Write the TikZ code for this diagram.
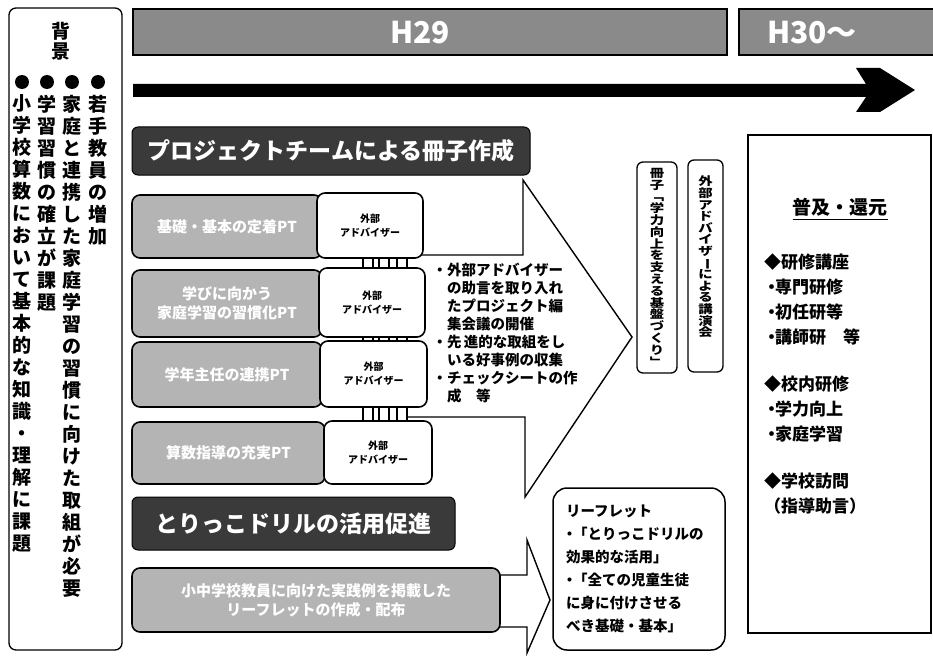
\documentclass[tikz,border=0pt]{standalone}
\usepackage{fontspec}
\setmainfont{Noto Sans CJK JP}
\usepackage{graphicx}
\definecolor{bannergray}{HTML}{8A8A8A}
\definecolor{hdrgray}{HTML}{3A3A3A}
\definecolor{boxgray}{HTML}{B4B4B4}
\ExplSyntaxOn
\NewDocumentCommand \vtext { O{22pt} m }
  {
    \vbox:n
      {
        \skip_set:Nn \baselineskip {#1}
        \skip_set:Nn \lineskip {0pt}
        \dim_set:Nn \lineskiplimit {-100pt}
        \tl_map_inline:nn {#2} { \hbox_to_wd:nn {1.1em} { \hss ##1 \hss } }
      }
  }
\NewDocumentCommand \vtextw { O{12pt} m }
  {
    \vbox:n
      {
        \skip_set:Nn \baselineskip {#1}
        \skip_set:Nn \lineskip {0pt}
        \dim_set:Nn \lineskiplimit {-100pt}
        \tl_map_inline:nn {#2}
          { \hbox_to_wd:nn {1.4em} { \hss \scalebox{1.25}[1]{##1} \hss } }
      }
  }
\ExplSyntaxOff
\newcommand\vch{\rotatebox[origin=c]{-90}{ー}}
\newcommand\hb{\makebox[7pt]{・}}
\begin{document}
\begin{tikzpicture}[x=1pt,y=-1pt,
  every node/.style={inner sep=0pt, outer sep=0pt},
  banner/.style={draw=black, line width=1.2pt, fill=bannergray, text=white,
    font=\fontsize{30}{30}\selectfont\bfseries},
  hdr/.style={draw=black, line width=1pt, fill=hdrgray, rounded corners=6pt,
    text=white, font=\fontsize{23}{23}\selectfont\bfseries},
  pbox/.style={draw=black, line width=1.6pt, fill=boxgray, rounded corners=8pt,
    text=white, font=\fontsize{15}{19}\selectfont\bfseries, align=center},
  abox/.style={draw=black, line width=1.6pt, fill=white, rounded corners=8pt,
    font=\fontsize{10}{14}\selectfont\bfseries, align=center},
  lnk/.style={draw=black, line width=1.4pt, fill=white, minimum width=10},
  vframe/.style={draw=black, line width=1.3pt, rounded corners=6pt, fill=white},
  outline/.style={draw=black, line width=1.4pt, fill=white, line join=miter},
  dot/.style={circle, fill=black, minimum size=14},
  colt/.style={font=\fontsize{19}{22}\selectfont\bfseries, anchor=north},
  rtxt/.style={font=\fontsize{17}{20}\selectfont\bfseries, anchor=west},
]
\useasboundingbox (0,0) rectangle (933,655);

% ---------- background column ----------
\node[draw, line width=1.3pt, rounded corners=7pt, minimum width=113,
  minimum height=642, anchor=north west] (bg) at (9,8) {};
\node[colt] (bgt) at (61,22) {\vtext[20pt]{背景}};
\node[dot] (d1) at (98,82) {};
\node[dot] (d2) at (72,82) {};
\node[dot] (d3) at (47,82) {};
\node[dot] (d4) at (22,82) {};
\node[colt] (c1) at (98,95) {\vtext{若手教員の増加}};
\node[colt] (c2) at (72,95) {\vtext{家庭と連携した家庭学習の習慣に向けた取組が必要}};
\node[colt] (c3) at (47,95) {\vtext{学習習慣の確立が課題}};
\node[colt] (c4) at (22,95) {\vtext{小学校算数において基本的な知識・理解に課題}};

% ---------- year banners and timeline ----------
\node[banner, minimum width=594, minimum height=46, anchor=north west] (h29) at (133,9) {};
\node[text=white, font=\fontsize{30}{30}\selectfont\bfseries] (h29t) at (420,33) {H29};
\node[banner, minimum width=200, minimum height=46, anchor=north west] (h30) at (739,9) {};
\node[text=white, font=\fontsize{30}{30}\selectfont\bfseries] (h30t) at (812,33) {H30～};
\coordinate (ta) at (133,90);
\coordinate (tb) at (915,90);
\fill (133,84) -- (866,84) -- (856,68) -- (880,68) -- (tb) -- (880,112)
  -- (856,112) -- (866,97) -- (133,97) -- cycle;

% ---------- project team ----------
\node[hdr, minimum width=398, minimum height=48, anchor=north west] (ph) at (132,127)
  {プロジェクトチームによる冊子作成};

\draw[outline] (405,255) -- (523,255) -- (523,180) -- (632,337) -- (525,497)
  -- (525,417) -- (405,417);

% links between adviser boxes
\foreach \xx/\k in {368/a,384/b,402/c}{
  \node[lnk, minimum height=14] (l1\k) at (\xx,263) {};
  \node[lnk, minimum height=10] (l2\k) at (\xx,339) {};
  \node[lnk, minimum height=18] (l3\k) at (\xx,414) {};
}

\node[pbox, minimum width=190, minimum height=63, anchor=north west] (p1) at (132,195)
  {基礎・基本の定着PT};
\node[pbox, minimum width=190, minimum height=67, anchor=north west] (p2) at (132,270)
  {学びに向かう\\家庭学習の習慣化PT};
\node[pbox, minimum width=190, minimum height=65, anchor=north west] (p3) at (132,342)
  {学年主任の連携PT};
\node[pbox, minimum width=193, minimum height=62, anchor=north west] (p4) at (132,422)
  {算数指導の充実PT};

\node[abox, minimum width=106, minimum height=65, anchor=north west] (a1) at (317,193)
  {外部\\アドバイザー};
\node[abox, minimum width=106, minimum height=69, anchor=north west] (a2) at (319,268)
  {外部\\アドバイザー};
\node[abox, minimum width=107, minimum height=66, anchor=north west] (a3) at (320,341)
  {外部\\アドバイザー};
\node[abox, minimum width=108, minimum height=63, anchor=north west] (a4) at (324,421)
  {外部\\アドバイザー};

\node[anchor=north west, align=left, font=\fontsize{14.5}{18}\selectfont\bfseries]
  (notes) at (447,263)
  {\llap{・}外部アドバイザー\\の助言を取り入れ\\たプロジェクト編\\集会議の開催\\
   \llap{・}先\,進的な取組をし\\いる好事例の収集\\\llap{・}チェックシートの作\\成　等};

% ---------- results ----------
\node[vframe, minimum width=40, minimum height=211, anchor=north west] (bk) at (637,162) {};
\node[anchor=north, font=\fontsize{11.5}{12}\selectfont\bfseries] (bkt) at (657,168)
  {\vtextw[11.8pt]{冊子﹁学力向上を支える基盤づくり﹂}};
\node[vframe, minimum width=35, minimum height=212, anchor=north west] (lk) at (688,160) {};
\node[anchor=north, font=\fontsize{11.5}{12}\selectfont\bfseries] (lkt) at (705.5,176)
  {\vtextw[11.6pt]{外部アドバイザ\vch による講演会}};

% ---------- drill ----------
\node[hdr, minimum width=323, minimum height=53, anchor=north west] (dh) at (132,497)
  {とりっこドリルの活用促進};
\draw[outline] (495,575) -- (527,575) -- (527,540) -- (550,600) -- (527,653)
  -- (527,627) -- (495,627);
\node[pbox, minimum width=368, minimum height=64, anchor=north west] (wb) at (132,568)
  {小中学校教員に向けた実践例を掲載した\\リーフレットの作成・配布};

\node[draw, line width=1.5pt, rounded corners=14pt, minimum width=172,
  minimum height=162, anchor=north west] (lf) at (553,488) {};
\node[anchor=north west, align=left, font=\fontsize{14.5}{23}\selectfont\bfseries]
  (lft) at (566,505)
  {リーフレット\\\hb「とりっこドリルの\\効果的な活用」\\\hb「全ての児童生徒\\に身に付けさせる\\べき基礎・基本」};

% ---------- dissemination ----------
\node[draw, line width=1.2pt, minimum width=183, minimum height=498,
  anchor=north west] (rb) at (748,135) {};
\node[font=\fontsize{19}{20}\selectfont\bfseries] (r0) at (840,207) {普及・還元};
\draw[line width=1pt] ([yshift=-3pt]r0.south west) -- ([yshift=-3pt]r0.south east);
\node[rtxt] (r1) at (764,262) {◆研修講座};
\node[rtxt] (r2) at (768,287) {\hb 専門研修};
\node[rtxt] (r3) at (768,312) {\hb 初任研等};
\node[rtxt] (r4) at (768,337) {\hb 講師研　等};
\node[rtxt] (r5) at (764,384) {◆校内研修};
\node[rtxt] (r6) at (768,409) {\hb 学力向上};
\node[rtxt] (r7) at (768,434) {\hb 家庭学習};
\node[rtxt] (r8) at (764,481) {◆学校訪問};
\node[rtxt] (r9) at (764,506) {（指導助言）};
\end{tikzpicture}
\end{document}
